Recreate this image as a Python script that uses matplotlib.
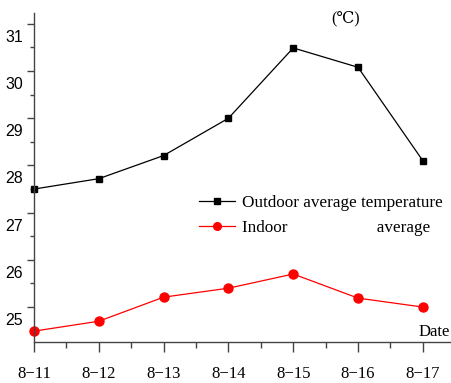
import matplotlib

matplotlib.use("Agg")
import matplotlib.pyplot as plt
from matplotlib.ticker import MultipleLocator
from matplotlib.transforms import ScaledTranslation

dates = ["8\u221211", "8\u221212", "8\u221213", "8\u221214", "8\u221215", "8\u221216", "8\u221217"]
outdoor = [27.5, 27.72, 28.21, 29.0, 30.49, 30.08, 28.1]
indoor = [24.49, 24.70, 25.21, 25.40, 25.70, 25.19, 25.0]
y_ticks = [25, 26, 27, 28, 29, 30, 31]

SERIF = ["Liberation Serif", "DejaVu Serif"]
SANS = ["Liberation Sans", "DejaVu Sans"]

fig = plt.figure(figsize=(4.52, 3.83), dpi=100)
ax = fig.add_axes([34 / 452, 1 - 342 / 383, 1 - 34 / 452, (342 - 13) / 383])

x = list(range(len(dates)))
ax.plot(x, outdoor, color="black", linewidth=0.9, marker="s", markersize=5,
        label="Outdoor average temperature", clip_on=False)
ax.plot(x, indoor, color="#ff0000", linewidth=0.9, marker="o", markersize=6.5,
        label="Indoor                     average", clip_on=False)

ax.set_xlim(0, 6.45)
ax.set_ylim(24.26, 31.23)

for side in ("top", "right"):
    ax.spines[side].set_visible(False)
for side in ("left", "bottom"):
    ax.spines[side].set_color("#444444")
    ax.spines[side].set_linewidth(1.0)

ax.set_xticks(x)
ax.set_xticklabels(dates, family=SERIF, fontsize=12)
ax.xaxis.set_minor_locator(MultipleLocator(0.5))
ax.set_yticks(y_ticks)
ax.set_yticklabels([str(v) for v in y_ticks], family=SANS, fontsize=11.5)
ax.yaxis.set_minor_locator(MultipleLocator(0.5))

ax.tick_params(axis="x", which="major", direction="out", length=7, width=1, color="#444444", pad=10.5)
ax.tick_params(axis="x", which="minor", direction="out", length=4, width=1, color="#444444")
ax.tick_params(axis="y", which="major", direction="out", length=5, width=1, color="#444444", pad=3)
ax.tick_params(axis="y", which="minor", direction="out", length=3, width=1, color="#444444")

# y tick labels sit a little below their ticks in the original
shift = ScaledTranslation(0, -0.12, fig.dpi_scale_trans)
for lbl in ax.get_yticklabels():
    lbl.set_transform(lbl.get_transform() + shift)

leg = ax.legend(loc="upper left", bbox_to_anchor=(199 / 452, 1 - 195 / 383), bbox_transform=fig.transFigure,
                frameon=False, prop={"family": SERIF, "size": 12.3}, handlelength=2.1, handletextpad=0.4,
                borderpad=0, borderaxespad=0, labelspacing=0.5)
leg.legend_handles[1].set_markersize(5.5)

fig.text(346 / 452, 1 - 18 / 383, "(\u2103)", family=SERIF, fontsize=11.5, ha="center", va="center")
fig.text(450 / 452, 1 - 332 / 383, "Date", family=SERIF, fontsize=12, ha="right", va="center")

fig.savefig("out.png", dpi=100)
